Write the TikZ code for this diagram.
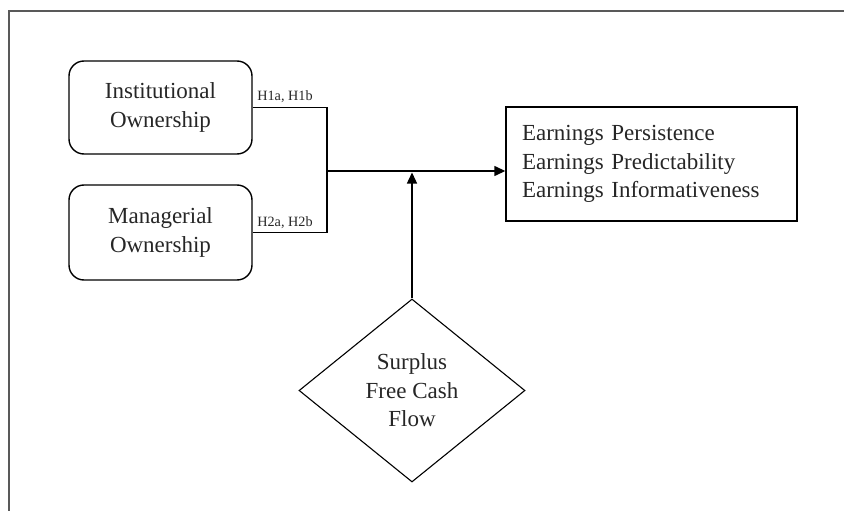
\documentclass[tikz,border=0pt]{standalone}
\usepackage{fontspec}
\setmainfont{Liberation Serif}
\usetikzlibrary{shapes.geometric,arrows.meta}
\begin{document}
\begin{tikzpicture}[x=1pt,y=-1pt,
  txt/.style={text=black!85, font=\fontsize{23}{28.5}\selectfont},
  roundbox/.style={draw, line width=1.4pt, rounded corners=15pt, minimum width=183pt, align=center, txt},
  hlabel/.style={text=black!85, font=\fontsize{14.2}{15}\selectfont, inner sep=0pt},
  conn/.style={line width=1.4pt},
  tip/.style={-{Triangle[length=11pt,width=10pt]}}]
\useasboundingbox (0,0) rectangle (844,511);
\draw[line width=1.5pt, black!65] (9,511) -- (9,11) -- (844,11);
\node[roundbox, minimum height=93pt] (inst) at (160.5,107.5) {Institutional\\Ownership};
\node[roundbox, minimum height=95pt] (man) at (160.5,232.5) {Managerial\\Ownership};
\node[draw, line width=1.4pt, minimum width=291pt, minimum height=114pt, text width=259pt, align=left, inner xsep=16pt, txt] (earn) at (651.5,164) {Earnings Persistence\\Earnings Predictability\\Earnings Informativeness};
\node[draw, diamond, line width=1.1pt, aspect=1.235, minimum width=226pt, minimum height=183pt, align=center, inner sep=0pt, txt] (sfcf) at (412,390.5) {Surplus\\Free Cash\\Flow};
\coordinate (j) at (327,171);
\draw[conn] (inst.east) -| (j) |- (man.east);
\draw[conn, tip] (j) -- (j -| earn.west);
\draw[conn, tip, shorten >=1.5pt] (sfcf.north) -- (sfcf.north |- j);
\node[hlabel] (l1) at (285,97) {H1a, H1b};
\node[hlabel] (l2) at (285,223) {H2a, H2b};
\end{tikzpicture}
\end{document}
